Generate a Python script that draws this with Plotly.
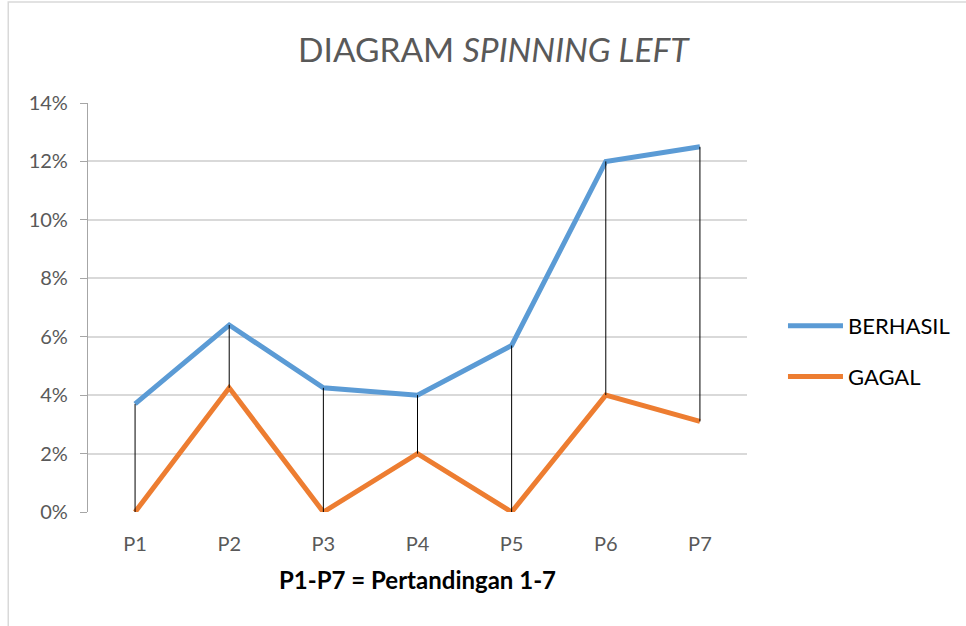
import plotly.graph_objects as go

categories = ["P1", "P2", "P3", "P4", "P5", "P6", "P7"]
berhasil = [0.037, 0.064, 0.0425, 0.040, 0.057, 0.120, 0.125]
gagal = [0.0, 0.0425, 0.0, 0.020, 0.0, 0.040, 0.031]
y_ticks = [0, 0.02, 0.04, 0.06, 0.08, 0.10, 0.12, 0.14]
y_tick_labels = ["0%", "2%", "4%", "6%", "8%", "10%", "12%", "14%"]

FONT = "Lato"
GRAY = "#595959"

# high-low connector lines
hl_x, hl_y = [], []
for c, hi, lo in zip(categories, berhasil, gagal):
    hl_x += [c, c, None]
    hl_y += [hi, lo, None]

fig = go.Figure()
fig.add_trace(go.Scatter(x=categories, y=berhasil, name="BERHASIL", mode="lines",
                         line=dict(color="#5B9BD5", width=5), legendgroup="a"))
fig.add_trace(go.Scatter(x=categories, y=gagal, name="GAGAL", mode="lines",
                         line=dict(color="#ED7D31", width=5), legendgroup="b"))
fig.add_trace(go.Scatter(x=hl_x, y=hl_y, mode="lines", showlegend=False,
                         line=dict(color="#000000", width=1), hoverinfo="skip"))

fig.update_layout(
    width=966, height=626,
    margin=dict(l=88, r=218, t=103, b=114),
    paper_bgcolor="white", plot_bgcolor="white",
    font=dict(family=FONT, color=GRAY),
    title=dict(text="DIAGRAM <i>SPINNING LEFT</i>", font=dict(family=FONT, size=33.5, color=GRAY),
               x=0.615, xref="paper", xanchor="center", y=1 - 50 / 626, yref="container", yanchor="middle"),
    legend=dict(x=1.053, xanchor="left", y=0.506, yanchor="top", font=dict(family=FONT, size=22, color="#000000"),
                tracegroupgap=19, itemwidth=55, bgcolor="rgba(0,0,0,0)"),
    showlegend=True,
    xaxis=dict(type="category", range=[-0.5, 6.5], showgrid=False, showline=False, ticks="",
               tickfont=dict(size=20, color=GRAY), ticklabelstandoff=18,
               title=dict(text="<b>P1-P7 = Pertandingan 1-7</b>", font=dict(family=FONT, size=24, color="#000000"), standoff=18),
               zeroline=False),
    yaxis=dict(range=[0, 0.14], tickvals=y_ticks, ticktext=y_tick_labels,
               showgrid=True, gridcolor="#D9D9D9", gridwidth=1.5,
               showline=True, linecolor="#A6A6A6", linewidth=1.2,
               ticks="outside", ticklen=7, tickcolor="#A6A6A6", tickwidth=1.2,
               tickfont=dict(size=20, color=GRAY), ticklabelstandoff=8, zeroline=False),
    shapes=[dict(type="rect", xref="paper", yref="paper", x0=-0.121, x1=2.0, y0=-1.0, y1=1.247,
                 line=dict(color="#D9D9D9", width=1.5), fillcolor="rgba(0,0,0,0)", layer="below")],
)

fig.write_html("out.html", config={"displayModeBar": False},
               post_script="document.body.style.margin='0';")
